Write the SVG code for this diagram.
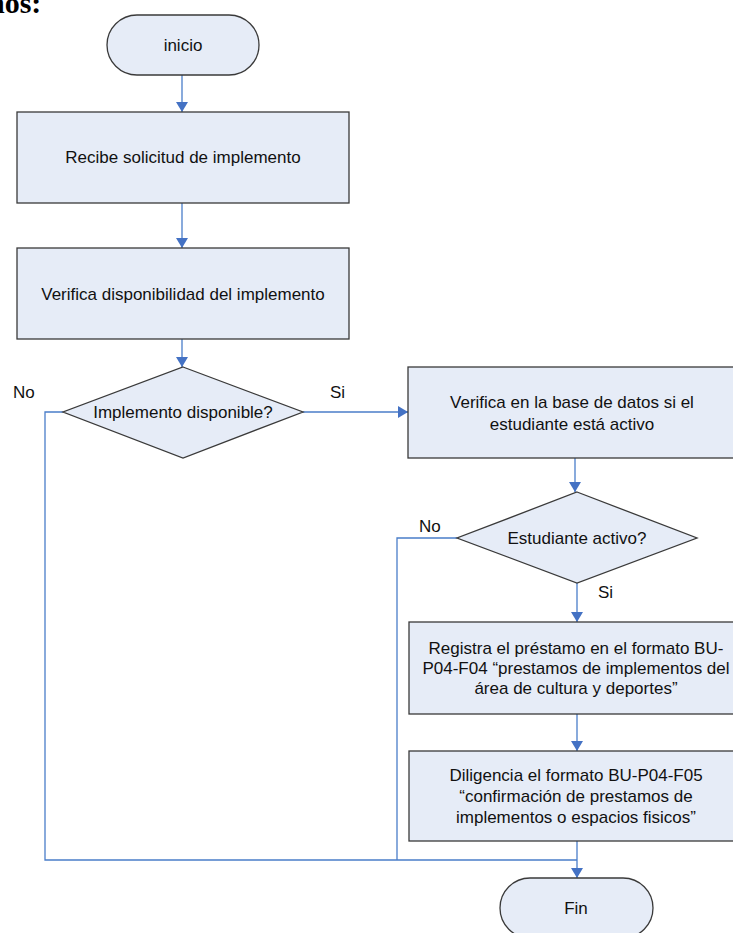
<svg xmlns="http://www.w3.org/2000/svg" width="733" height="933" viewBox="0 0 733 933">
  <defs>
    <style>
      .node { fill: #E6ECF7; stroke: #3A3A3A; stroke-width: 1.3; }
      .lbl { font-family: "Liberation Sans", Arial, sans-serif; font-size: 17px; fill: #111; text-anchor: middle; }
      .side { font-family: "Liberation Sans", Arial, sans-serif; font-size: 17px; fill: #111; }
      .wire { fill: none; stroke: #4A7DC9; stroke-width: 1.3; }
    </style>
    <marker id="arrow" viewBox="0 0 10 12" markerWidth="10" markerHeight="12" refX="10" refY="6" orient="auto" markerUnits="userSpaceOnUse">
      <path d="M0,0 L10,6 L0,12 Z" fill="#4472C4"/>
    </marker>
  </defs>

  <rect width="733" height="933" fill="#FFFFFF"/>

  <!-- heading fragment at the page top -->
  <text x="-12" y="13" font-family="'Liberation Serif', 'Times New Roman', serif" font-size="30" font-weight="bold" fill="#000">nos:</text>

  <g id="connectors">
    <line class="wire" x1="182" y1="75" x2="182" y2="112" marker-end="url(#arrow)"/>
    <line class="wire" x1="182" y1="203" x2="182" y2="248" marker-end="url(#arrow)"/>
    <line class="wire" x1="182" y1="339" x2="182" y2="367" marker-end="url(#arrow)"/>
    <line class="wire" x1="303" y1="412" x2="408" y2="412" marker-end="url(#arrow)"/>
    <line class="wire" x1="575" y1="458" x2="575" y2="492" marker-end="url(#arrow)"/>
    <line class="wire" x1="577" y1="583" x2="577" y2="622" marker-end="url(#arrow)"/>
    <line class="wire" x1="577" y1="714" x2="577" y2="751" marker-end="url(#arrow)"/>
    <line class="wire" x1="577" y1="841" x2="577" y2="878" marker-end="url(#arrow)"/>
    <polyline class="wire" points="63,412 45,412 45,860 577,860"/>
    <polyline class="wire" points="457,538 397,538 397,860"/>
  </g>

  <g id="inicio">
    <rect class="node" x="107" y="15" width="152" height="60" rx="30" ry="30"/>
    <text class="lbl" x="183" y="51">inicio</text>
  </g>

  <g id="recibe">
    <rect class="node" x="17" y="112" width="332" height="91"/>
    <text class="lbl" x="183" y="163">Recibe solicitud de implemento</text>
  </g>

  <g id="verifica-disp">
    <rect class="node" x="17" y="248" width="332" height="91"/>
    <text class="lbl" x="183" y="300">Verifica disponibilidad del implemento</text>
  </g>

  <g id="decision-implemento">
    <polygon class="node" points="183,367 303,412 183,458 63,412"/>
    <text class="lbl" x="183" y="418">Implemento disponible?</text>
  </g>

  <g id="verifica-base">
    <rect class="node" x="408" y="367" width="335" height="91"/>
    <text class="lbl" x="572" y="408">Verifica en la base de datos si el</text>
    <text class="lbl" x="572" y="430">estudiante está activo</text>
  </g>

  <g id="decision-estudiante">
    <polygon class="node" points="577,492 697,538 577,583 457,538"/>
    <text class="lbl" x="577" y="544">Estudiante activo?</text>
  </g>

  <g id="registra">
    <rect class="node" x="409" y="622" width="334" height="92"/>
    <text class="lbl" x="576" y="654">Registra el préstamo en el formato BU-</text>
    <text class="lbl" x="576" y="674">P04-F04 “prestamos de implementos del</text>
    <text class="lbl" x="576" y="694">área de cultura y deportes”</text>
  </g>

  <g id="diligencia">
    <rect class="node" x="409" y="751" width="334" height="90"/>
    <text class="lbl" x="576" y="781">Diligencia el formato BU-P04-F05</text>
    <text class="lbl" x="576" y="802">“confirmación de prestamos de</text>
    <text class="lbl" x="576" y="823">implementos o espacios fisicos”</text>
  </g>

  <g id="fin">
    <rect class="node" x="500" y="878" width="153" height="60" rx="30" ry="30"/>
    <text class="lbl" x="576" y="914">Fin</text>
  </g>

  <g id="branch-labels">
    <text class="side" x="13" y="398">No</text>
    <text class="side" x="330" y="398">Si</text>
    <text class="side" x="419" y="532">No</text>
    <text class="side" x="598" y="598">Si</text>
  </g>
</svg>
